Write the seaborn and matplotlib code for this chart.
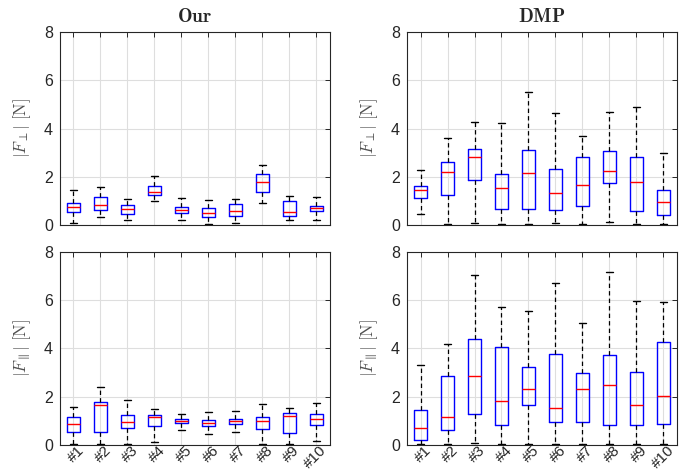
import numpy as np
import pandas as pd
import matplotlib
matplotlib.use("Agg")
import matplotlib.pyplot as plt
import matplotlib.transforms as mtransforms
import seaborn as sns

sns.set_style("white")
plt.rcParams["font.family"] = ["Liberation Sans", "DejaVu Sans"]
plt.rcParams["mathtext.fontset"] = "cm"

trials = ["#1", "#2", "#3", "#4", "#5", "#6", "#7", "#8", "#9", "#10"]

# Box summaries per trial: rows are lower whisker, Q1, median, Q3, upper whisker
our_perp = [
    [0.08, 0.33, 0.22, 0.98, 0.21, 0.04, 0.08, 0.91, 0.22, 0.22],
    [0.52, 0.62, 0.46, 1.23, 0.50, 0.35, 0.37, 1.38, 0.37, 0.58],
    [0.75, 0.83, 0.65, 1.35, 0.62, 0.51, 0.59, 1.80, 0.55, 0.69],
    [0.91, 1.17, 0.81, 1.60, 0.75, 0.69, 0.86, 2.10, 1.01, 0.80],
    [1.45, 1.57, 1.09, 2.02, 1.12, 1.04, 1.06, 2.47, 1.20, 1.15],
]
dmp_perp = [
    [0.44, 0.04, 0.08, 0.04, 0.04, 0.08, 0.04, 0.11, 0.04, 0.04],
    [1.10, 1.26, 1.85, 0.65, 0.65, 0.62, 0.80, 1.74, 0.58, 0.41],
    [1.45, 2.20, 2.82, 1.52, 2.14, 1.33, 1.66, 2.24, 1.78, 0.95],
    [1.63, 2.60, 3.16, 2.11, 3.09, 2.32, 2.80, 3.08, 2.82, 1.45],
    [2.27, 3.60, 4.25, 4.23, 5.52, 4.64, 3.69, 4.70, 4.88, 3.00],
]
our_par = [
    [0.02, 0.02, 0.02, 0.12, 0.61, 0.46, 0.54, 0.02, 0.02, 0.15],
    [0.53, 0.54, 0.69, 0.79, 0.90, 0.78, 0.86, 0.68, 0.49, 0.83],
    [0.87, 1.64, 0.96, 1.15, 0.98, 0.90, 1.01, 1.00, 1.21, 1.07],
    [1.18, 1.80, 1.26, 1.25, 1.07, 1.04, 1.08, 1.15, 1.33, 1.29],
    [1.57, 2.40, 1.87, 1.51, 1.28, 1.35, 1.41, 1.71, 1.55, 1.72],
]
dmp_par = [
    [0.02, 0.02, 0.07, 0.02, 0.02, 0.02, 0.02, 0.02, 0.02, 0.02],
    [0.22, 0.61, 1.30, 0.82, 1.65, 0.94, 0.97, 0.82, 0.82, 0.89],
    [0.69, 1.14, 2.86, 1.82, 2.30, 1.53, 2.30, 2.47, 1.66, 2.01],
    [1.46, 2.88, 4.38, 4.05, 3.23, 3.76, 2.97, 3.74, 3.01, 4.26],
    [3.33, 4.20, 7.04, 5.71, 5.57, 6.72, 5.06, 7.15, 5.98, 5.92],
]

panels = [
    (our_perp, r"$\mathbf{Our}$", r"$|F_{\perp}|\ [\mathrm{N}]$"),
    (dmp_perp, r"$\mathbf{DMP}$", r"$|F_{\perp}|\ [\mathrm{N}]$"),
    (our_par, None, r"$|F_{\parallel}|\ [\mathrm{N}]$"),
    (dmp_par, None, r"$|F_{\parallel}|\ [\mathrm{N}]$"),
]

fig = plt.figure(figsize=(6.83, 4.75), dpi=100)
lefts = [0.0878, 0.596]
width = 0.395
bottoms = [0.5263, 0.0632]
height = 0.4063

ink = "#262626"
for idx, (stats, title, ylabel) in enumerate(panels):
    row, col = divmod(idx, 2)
    ax = fig.add_axes([lefts[col], bottoms[row], width, height])
    rows = []
    for j, t in enumerate(trials):
        for k in range(5):
            rows.append({"trial": t, "value": stats[k][j]})
    df = pd.DataFrame(rows)
    sns.boxplot(
        data=df, x="trial", y="value", order=trials, ax=ax,
        fill=False, width=0.5, whis=(0, 100), showfliers=False,
        color="blue", linewidth=1.0,
        boxprops=dict(color="blue", linewidth=1.0),
        medianprops=dict(color="red", linewidth=1.0),
        whiskerprops=dict(color="black", linestyle=(0, (3.5, 2.5)), linewidth=0.9),
        capprops=dict(color="black", linewidth=1.0),
    )
    ax.set_axisbelow(True)
    ax.xaxis.grid(True, color="#dedede", linewidth=0.8)
    ax.yaxis.grid(True, color="#dedede", linewidth=0.8)
    ax.set_xlim(-0.5, 9.5)
    ax.set_ylim(0, 8)
    ax.set_yticks([0, 2, 4, 6, 8])
    ax.tick_params(direction="in", length=3.5, width=0.7, colors=ink,
                   labelsize=11.5, top=True, right=True, pad=5)
    ax.tick_params(axis="x", pad=2)
    for s in ax.spines.values():
        s.set_color(ink)
        s.set_linewidth(0.8)
    ax.set_xlabel("")
    ax.set_ylabel(ylabel, fontsize=12, color="#505050", labelpad=8)
    if row == 0:
        ax.set_xticklabels([])
    else:
        ax.set_xticks(range(len(trials)))
        labels = ax.set_xticklabels(trials, rotation=45, ha="right", va="center",
                                    rotation_mode="anchor", fontsize=11)
        shift = mtransforms.ScaledTranslation(6 / 72, 0, fig.dpi_scale_trans)
        for lab in labels:
            lab.set_transform(lab.get_transform() + shift)
    if title:
        ax.set_title(title, fontsize=14, color=ink, pad=7)

fig.savefig("out.png", dpi=100)
